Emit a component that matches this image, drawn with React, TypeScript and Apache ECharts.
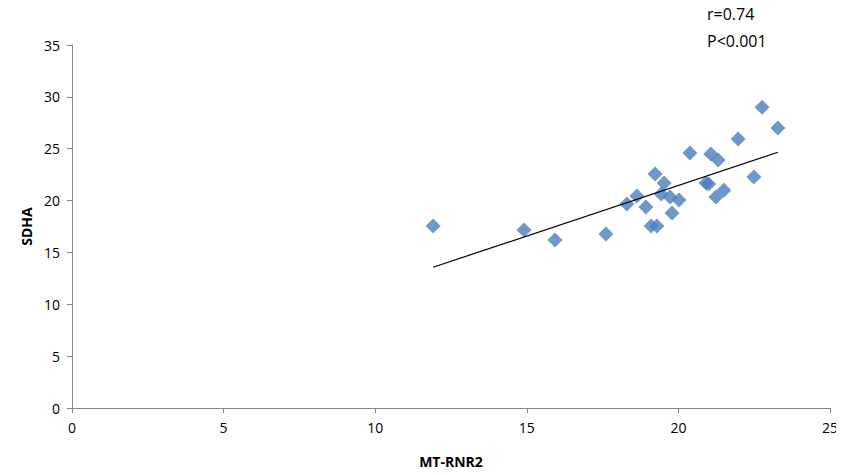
import React, { useEffect, useRef } from "react";
import * as echarts from "echarts";

const xValues = [11.91, 14.91, 15.93, 17.61, 18.3, 18.63, 18.93, 19.1, 19.23, 19.29, 19.43, 19.53, 19.72, 19.79, 20.02, 20.38, 20.91, 21.0, 21.07, 21.24, 21.31, 21.5, 21.97, 22.49, 22.76, 23.28];
const yValues = [17.55, 17.16, 16.2, 16.78, 19.67, 20.44, 19.38, 17.55, 22.56, 17.55, 20.64, 21.7, 20.35, 18.8, 20.06, 24.59, 21.7, 21.6, 24.5, 20.35, 23.9, 21.0, 25.94, 22.28, 29.0, 27.0];
const trendSlope = 0.975;
const trendIntercept = 1.96;
const xTicks = [0, 5, 10, 15, 20, 25];
const yTicks = [0, 5, 10, 15, 20, 25, 30, 35];
const annotations = ["r=0.74", "P<0.001"];

export default function App() {
  const ref = useRef<HTMLDivElement>(null);
  useEffect(() => {
    if (!ref.current) return;
    const chart = echarts.init(ref.current, null, { renderer: "svg" });
    const points = xValues.map((x, i) => [x, yValues[i]]);
    const xMin = Math.min(...xValues);
    const xMax = Math.max(...xValues);
    const trend = [
      [xMin, trendIntercept + trendSlope * xMin],
      [xMax, trendIntercept + trendSlope * xMax],
    ];
    const font = "'Open Sans', sans-serif";
    const axisColor = "#868686";
    chart.setOption({
      animation: false,
      backgroundColor: "#ffffff",
      grid: { left: 72, right: 14, top: 45, bottom: 67 },
      xAxis: {
        type: "value",
        min: xTicks[0],
        max: xTicks[xTicks.length - 1],
        interval: 5,
        name: "MT-RNR2",
        nameLocation: "middle",
        nameGap: 46,
        nameTextStyle: { fontFamily: font, fontWeight: "bold", fontSize: 14, color: "#000" },
        axisLine: { show: true, lineStyle: { color: axisColor, width: 1 } },
        axisTick: { show: true, inside: false, length: 5, lineStyle: { color: axisColor } },
        axisLabel: { fontFamily: font, fontSize: 14, color: "#000", margin: 12 },
        splitLine: { show: false },
      },
      yAxis: {
        type: "value",
        min: yTicks[0],
        max: yTicks[yTicks.length - 1],
        interval: 5,
        name: "SDHA",
        nameLocation: "middle",
        nameRotate: 90,
        nameGap: 29,
        nameTextStyle: { fontFamily: font, fontWeight: "bold", fontSize: 14, color: "#000" },
        axisLine: { show: true, lineStyle: { color: axisColor, width: 1 } },
        axisTick: { show: true, inside: false, length: 5, lineStyle: { color: axisColor } },
        axisLabel: { fontFamily: font, fontSize: 14, color: "#000", margin: 12 },
        splitLine: { show: false },
      },
      graphic: [
        {
          type: "text",
          x: 707,
          y: 14,
          style: { text: annotations[0], font: `16px ${font}`, fill: "#000", textVerticalAlign: "middle", verticalAlign: "middle" },
        },
        {
          type: "text",
          x: 707,
          y: 41,
          style: { text: annotations[1], font: `16px ${font}`, fill: "#000", textVerticalAlign: "middle", verticalAlign: "middle" },
        },
      ],
      series: [
        {
          type: "line",
          data: trend,
          symbol: "none",
          lineStyle: { color: "#000", width: 1.2 },
          z: 3,
        },
        {
          type: "scatter",
          data: points,
          symbol: "diamond",
          symbolSize: [15, 15],
          itemStyle: { color: "#4a7ebb" },
          z: 2,
        },
      ],
    });
    return () => chart.dispose();
  }, []);
  return <div ref={ref} style={{ width: 844, height: 475, margin: -8 }} />;
}
